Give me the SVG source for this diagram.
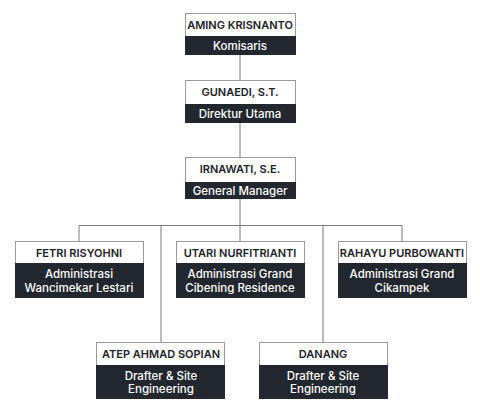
<svg xmlns="http://www.w3.org/2000/svg" width="480" height="415" viewBox="0 0 480 415">
<style>
.w{fill:#ffffff;stroke:#9a9a9a;stroke-width:1}
.d{fill:#232830}
.n{font-family:Inter,"Noto Sans",sans-serif;font-size:11px;font-weight:600;fill:#1e2229;text-anchor:middle}
.r{font-family:Inter,"Noto Sans",sans-serif;font-size:11.5px;font-weight:500;fill:#ffffff;text-anchor:middle}
.c{fill:none;stroke:#7a7a7a;stroke-width:1}
</style>
<rect width="480" height="415" fill="#ffffff"/>
<g id="connectors">
<path class="c" d="M240 54V80M240 122V157M240 199V241M79 225.5H402M79 225.5V241M402 225.5V241M161 225.5V342M323 225.5V342"/>
</g>
<g id="n1">
<rect class="w" x="185.5" y="13.5" width="110" height="41"/>
<rect class="d" x="185" y="36" width="111" height="19"/>
<text class="n" x="240" y="28.5">AMING KRISNANTO</text>
<text class="r" x="240" y="49.5">Komisaris</text>
</g>
<g id="n2">
<rect class="w" x="185.5" y="80.5" width="110" height="42"/>
<rect class="d" x="185" y="104" width="111" height="19"/>
<text class="n" x="240" y="96">GUNAEDI, S.T.</text>
<text class="r" x="240" y="117.5">Direktur Utama</text>
</g>
<g id="n3">
<rect class="w" x="185.5" y="157.5" width="110" height="41"/>
<rect class="d" x="185" y="182" width="111" height="17"/>
<text class="n" x="240" y="173">IRNAWATI, S.E.</text>
<text class="r" x="240" y="194.5">General Manager</text>
</g>
<g id="n4">
<rect class="w" x="15.5" y="241.5" width="128" height="56"/>
<rect class="d" x="15" y="263" width="129" height="35"/>
<text class="n" x="79" y="256.5">FETRI RISYOHNI</text>
<text class="r" x="79" y="278">Administrasi</text>
<text class="r" x="79" y="292">Wancimekar Lestari</text>
</g>
<g id="n5">
<rect class="w" x="176.5" y="241.5" width="128" height="56"/>
<rect class="d" x="176" y="263" width="129" height="35"/>
<text class="n" x="240" y="256.5">UTARI NURFITRIANTI</text>
<text class="r" x="240" y="278">Administrasi Grand</text>
<text class="r" x="240" y="292">Cibening Residence</text>
</g>
<g id="n6">
<rect class="w" x="338.5" y="241.5" width="128" height="56"/>
<rect class="d" x="338" y="263" width="129" height="35"/>
<text class="n" x="402" y="256.5">RAHAYU PURBOWANTI</text>
<text class="r" x="402" y="278">Administrasi Grand</text>
<text class="r" x="402" y="292">Cikampek</text>
</g>
<g id="n7">
<rect class="w" x="96.5" y="342.5" width="128" height="56"/>
<rect class="d" x="96" y="365" width="129" height="34"/>
<text class="n" x="161" y="357.5">ATEP AHMAD SOPIAN</text>
<text class="r" x="161" y="380">Drafter &amp; Site</text>
<text class="r" x="161" y="393">Engineering</text>
</g>
<g id="n8">
<rect class="w" x="259.5" y="342.5" width="128" height="56"/>
<rect class="d" x="259" y="365" width="129" height="34"/>
<text class="n" x="323" y="357.5">DANANG</text>
<text class="r" x="323" y="380">Drafter &amp; Site</text>
<text class="r" x="323" y="393">Engineering</text>
</g>
</svg>
